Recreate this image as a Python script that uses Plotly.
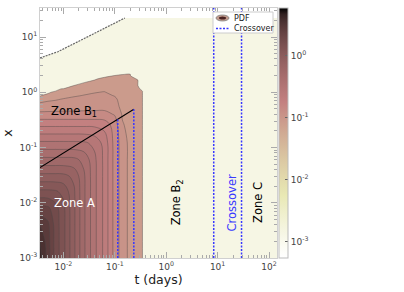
import numpy as np
import plotly.graph_objects as go

# ---------------- data ----------------
# grid of the PDF map (t in days, x dimensionless); values are log10(PDF)
t_grid = [0.0035, 0.005, 0.007, 0.01, 0.016, 0.025, 0.04, 0.063, 0.1, 0.14,
          0.2, 0.28, 0.345, 0.36, 1.0, 10.0, 143.0]
x_grid = [0.001, 0.002, 0.004, 0.008, 0.016, 0.03, 0.06, 0.12, 0.25, 0.4,
          0.55, 0.75, 0.87, 1.0, 1.15, 1.32, 1.5, 1.75, 2.0, 2.3, 3.0, 22.0]
C = -2.85  # level of the pale (near-zero) region
log10_pdf = [
    [0.64, 0.45, 0.26, 0.13, -0.08, -0.28, -0.47, -0.63, -0.84, -0.95, -1.03, -1.06, -1.08, C, C, C, C],
    [0.60, 0.446, 0.26, 0.13, -0.08, -0.28, -0.47, -0.63, -0.84, -0.95, -1.03, -1.06, -1.08, C, C, C, C],
    [0.50, 0.425, 0.258, 0.13, -0.08, -0.28, -0.47, -0.63, -0.84, -0.95, -1.03, -1.06, -1.08, C, C, C, C],
    [0.33, 0.32, 0.24, 0.126, -0.08, -0.28, -0.47, -0.63, -0.84, -0.95, -1.03, -1.06, -1.08, C, C, C, C],
    [0.12, 0.12, 0.112, 0.075, -0.084, -0.28, -0.47, -0.63, -0.84, -0.95, -1.03, -1.06, -1.08, C, C, C, C],
    [-0.066, -0.066, -0.066, -0.07, -0.122, -0.283, -0.47, -0.63, -0.84, -0.95, -1.03, -1.06, -1.08, C, C, C, C],
    [-0.271, -0.271, -0.271, -0.271, -0.275, -0.325, -0.474, -0.63, -0.84, -0.95, -1.03, -1.06, -1.08, C, C, C, C],
    [-0.478, -0.478, -0.478, -0.478, -0.478, -0.482, -0.523, -0.638, -0.84, -0.95, -1.03, -1.06, -1.08, C, C, C, C],
    [-0.713, -0.713, -0.713, -0.713, -0.713, -0.713, -0.715, -0.731, -0.85, -0.99, -1.03, -1.06, -1.08, C, C, C, C],
    [-0.873, -0.873, -0.873, -0.873, -0.873, -0.873, -0.873, -0.875, -0.907, -1.01, -1.035, -1.06, -1.08, C, C, C, C],
    [-0.957, -0.95, -0.946, -0.941, -0.937, -0.933, -0.93, -0.927, -0.96, -1.03, -1.035, -1.06, -1.08, C, C, C, C],
    [-1.04, -1.02, -1.01, -0.995, -0.984, -0.976, -0.968, -0.963, -0.985, -1.035, -1.04, -1.06, -1.08, C, C, C, C],
    [-1.111, -1.045, -1.04, -1.03, -1.008, -0.997, -0.987, -0.98, -1.005, -1.04, -1.04, -1.06, -1.08, C, C, C, C],
    [C, -1.137, -1.045, -1.04, -1.035, -1.015, -1.004, -0.996, -1.03, -1.04, -1.04, -1.06, -1.08, C, C, C, C],
    [C, C, -1.21, -1.045, -1.04, -1.035, -1.03, -1.02, -1.035, -1.04, -1.04, -1.06, -1.147, C, C, C, C],
    [C, C, C, -1.9, -1.09, -1.045, -1.04, -1.035, -1.04, -1.04, -1.045, -1.06, C, C, C, C, C],
    [C, C, C, C, C, -1.104, -1.045, -1.04, -1.045, -1.045, -1.045, -1.065, C, C, C, C, C],
    [C, C, C, C, C, C, -1.128, -1.045, -1.05, -1.05, -1.05, -1.118, C, C, C, C, C],
    [C, C, C, C, C, C, C, -1.162, -1.09, -1.05, -1.05, C, C, C, C, C, C],
    [C, C, C, C, C, C, C, C, C, -1.21, -1.178, C, C, C, C, C, C],
    [C] * 17,
    [C] * 17,
]

contour_start, contour_end, contour_step = -1.1, 0.75, 0.1
cbar_min, cbar_max = -3.26, 0.77
cbar_major = [-3, -2, -1, 0]

# edge of the domain (white above)
domain_edge_t = [0.00349, 0.00782, 0.0191, 0.0469, 0.1148, 0.157]
domain_edge_x = [4.17, 5.42, 8.22, 12.5, 18.9, 22.1]

# zone A / zone B1 separation line
regime_line_t = [0.0035, 0.234]
regime_line_x = [0.0433, 0.491]

# crossover times (blue dotted lines) and the height they reach
crossover_t = [0.114, 0.234, 8.4, 29.2]
crossover_top = [0.324, 0.491, 33.5, 33.5]

t_range = [0.0035, 143.0]
x_range = [0.001, 33.5]

zone_labels = [
    ("Zone B<sub>1</sub>", 0.0164, 0.449, 0, "black"),
    ("Zone A", 0.01675, 0.0099, 0, "white"),
    ("Zone B<sub>2</sub>", 1.61, 0.0101, -90, "black"),
    ("Crossover", 19.0, 0.0101, -90, "#3a3aff"),
    ("Zone C", 59.4, 0.0101, -90, "black"),
]

# ---------------- layout geometry (pixels) ----------------
W, H = 404, 292
PL, PR, PT, PB = 40, 277, 8, 258
BLUE = "rgb(55,55,255)"


def px_x(p):
    return (p - PL) / float(PR - PL)


def px_y(p):
    return (PB - p) / float(PB - PT)


# ---------------- colours (matplotlib-like 'pink_r') ----------------
def pink(s):
    s = min(max(s, 0.0), 1.0)
    hr = min(1.0, s / 0.375)
    hg = min(1.0, max(0.0, (s - 0.375) / 0.375))
    hb = min(1.0, max(0.0, (s - 0.75) / 0.25))
    r, g, b = [np.sqrt((2 * s + h) / 3.0) for h in (hr, hg, hb)]
    return "rgb(%d,%d,%d)" % (round(255 * r), round(255 * g), round(255 * b))


def zcolor(z):
    return pink((cbar_max - z) / (cbar_max - cbar_min))


lo = contour_start - contour_step / 2
hi = contour_end
contour_cs = [[0.0, zcolor(C)]]
nlev = int(round((contour_end - contour_start) / contour_step - 0.5)) + 1
for k in range(nlev):
    mid = contour_start + contour_step * (k + 0.5)
    p = (mid - lo) / (hi - lo)
    contour_cs.append([min(p, 1.0), zcolor(mid)])
contour_cs[-1][0] = 1.0

cbar_cs = [[p, zcolor(cbar_min + p * (cbar_max - cbar_min))] for p in np.linspace(0, 1, 41)]


def minor_vals(a, b):
    out = []
    for k in range(-5, 4):
        for m in range(2, 10):
            v = m * 10.0 ** k
            if a < v < b:
                out.append(v)
    return out


# ---------------- figure ----------------
fig = go.Figure()

fig.add_trace(go.Contour(
    x=t_grid, y=x_grid, z=log10_pdf,
    autocontour=False,
    contours=dict(start=contour_start, end=contour_end, size=contour_step,
                  coloring="fill", showlines=True),
    line=dict(color="rgba(75,70,70,0.6)", width=0.7, smoothing=1.0),
    colorscale=contour_cs, showscale=False, hoverinfo="skip",
))

# white (undefined) region above the domain edge
fig.add_trace(go.Scatter(
    x=domain_edge_t + [domain_edge_t[-1], domain_edge_t[0] * 0.8, domain_edge_t[0] * 0.8],
    y=domain_edge_x + [x_range[1] * 1.3, x_range[1] * 1.3, domain_edge_x[0]],
    mode="lines", fill="toself", fillcolor="white", line=dict(width=0),
    hoverinfo="skip", showlegend=False,
))
fig.add_trace(go.Scatter(
    x=domain_edge_t, y=domain_edge_x, mode="lines",
    line=dict(color="#666666", width=1.2, dash="2px,1px"),
    hoverinfo="skip", showlegend=False,
))

fig.add_trace(go.Scatter(
    x=regime_line_t, y=regime_line_x, mode="lines",
    line=dict(color="black", width=1.1), hoverinfo="skip", showlegend=False,
))

cx, cy = [], []
for t, top in zip(crossover_t, crossover_top):
    cx += [t, t, None]
    cy += [x_range[0], top, None]
fig.add_trace(go.Scatter(
    x=cx, y=cy, mode="lines",
    line=dict(color=BLUE, width=1.5, dash="2px,1.5px"),
    hoverinfo="skip", showlegend=False,
))

# colour bar
fig.add_trace(go.Scatter(
    x=[None, None], y=[None, None], mode="markers",
    marker=dict(color=[cbar_min, cbar_max], cmin=cbar_min, cmax=cbar_max,
                colorscale=cbar_cs, showscale=True,
                colorbar=dict(x=px_x(279), xanchor="left", y=0.5, yanchor="middle",
                              len=1, lenmode="fraction", thickness=9, thicknessmode="pixels",
                              xpad=0, ypad=0, outlinewidth=1, outlinecolor="#bbbbbb",
                              tickmode="array", tickvals=cbar_major,
                              ticktext=["10<sup>%d</sup>" % k for k in cbar_major],
                              ticks="inside", ticklen=3, tickcolor="#666666",
                              tickfont=dict(family="DejaVu Sans", size=9, color="#444444"))),
    hoverinfo="skip", showlegend=False,
))

axis_common = dict(
    type="log", ticks="inside", ticklen=6, tickwidth=1, tickcolor="#aaaaaa",
    showline=True, linecolor="#d0d0d0", linewidth=1, mirror="ticks",
    showgrid=False, zeroline=False, automargin=False,
    tickfont=dict(family="DejaVu Sans", size=9, color="#444444"),
)

fig.update_xaxes(
    range=[np.log10(t_range[0]), np.log10(t_range[1])],
    tickmode="array", tickvals=[0.01, 0.1, 1, 10, 100],
    ticktext=["10<sup>-2</sup>", "10<sup>-1</sup>", "10<sup>0</sup>", "10<sup>1</sup>", "10<sup>2</sup>"],
    minor=dict(tickvals=minor_vals(*t_range), ticks="inside", ticklen=3, tickcolor="#aaaaaa"),
    title=dict(text="t (days)", font=dict(family="DejaVu Sans", size=12.5, color="#222222"), standoff=4),
    **axis_common,
)
fig.update_yaxes(
    range=[np.log10(x_range[0]), np.log10(x_range[1])],
    tickmode="array", tickvals=[0.001, 0.01, 0.1, 1, 10],
    ticktext=["10<sup>-3</sup>", "10<sup>-2</sup>", "10<sup>-1</sup>", "10<sup>0</sup>", "10<sup>1</sup>"],
    minor=dict(tickvals=minor_vals(*x_range), ticks="inside", ticklen=3, tickcolor="#aaaaaa"),
    title=dict(text="x", font=dict(family="DejaVu Sans", size=12.5, color="#222222"), standoff=6),
    **axis_common,
)

annotations = []
for text, t, x, ang, col in zone_labels:
    annotations.append(dict(
        text=text, x=np.log10(t), y=np.log10(x), xref="x", yref="y",
        showarrow=False, textangle=ang, xanchor="center", yanchor="middle",
        font=dict(family="DejaVu Sans", size=11.5, color=col),
    ))

# minor ticks of the colour bar (log positions inside each decade)
shapes = []
for k in range(-4, 1):
    for m in range(2, 10):
        v = np.log10(m) + k
        if cbar_min < v < cbar_max:
            yy = (v - cbar_min) / (cbar_max - cbar_min)
            shapes.append(dict(type="line", xref="paper", yref="paper",
                               x0=px_x(286.5), x1=px_x(288), y0=yy, y1=yy,
                               line=dict(color="#777777", width=0.8), layer="above"))

# legend (box, symbols, labels)
shapes += [
    dict(type="rect", xref="paper", yref="paper", x0=px_x(213), x1=px_x(273), y0=px_y(33), y1=px_y(12),
         fillcolor="white", line=dict(color="#cccccc", width=1), layer="above"),
    dict(type="circle", xref="paper", yref="paper", x0=px_x(216), x1=px_x(229), y0=px_y(21), y1=px_y(15),
         fillcolor="#c39b8c", line=dict(color="#808080", width=0.8), layer="above"),
    dict(type="circle", xref="paper", yref="paper", x0=px_x(219), x1=px_x(226), y0=px_y(19.5), y1=px_y(16.5),
         fillcolor="#4a2323", line=dict(width=0), layer="above"),
    dict(type="line", xref="paper", yref="paper", x0=px_x(216), x1=px_x(230), y0=px_y(28.5), y1=px_y(28.5),
         line=dict(color=BLUE, width=1.5, dash="2px,1.5px"), layer="above"),
]
for text, yy in (("PDF", 18), ("Crossover", 28.3)):
    annotations.append(dict(text=text, x=px_x(231.5), y=px_y(yy), xref="paper", yref="paper",
                            showarrow=False, xanchor="left", yanchor="middle",
                            font=dict(family="DejaVu Sans", size=8, color="#222222")))

fig.update_layout(
    width=W, height=H,
    margin=dict(l=PL, r=W - PR, t=PT, b=H - PB, autoexpand=False),
    paper_bgcolor="white", plot_bgcolor="white",
    showlegend=False,
    font=dict(family="DejaVu Sans"),
    annotations=annotations, shapes=shapes,
)

fig.write_html("out.html", config={"displayModeBar": False, "staticPlot": True},
               post_script="document.body.style.margin='0px';")
